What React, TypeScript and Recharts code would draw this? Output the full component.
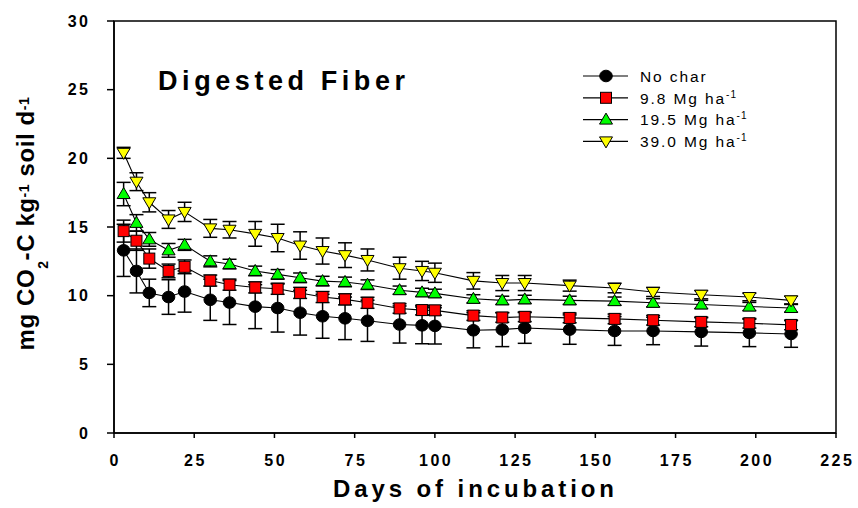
import React from 'react';
import { ComposedChart, Line, XAxis, YAxis, ErrorBar, ReferenceArea, Legend } from 'recharts';

const days = [3, 7, 11, 17, 22, 30, 36, 44, 51, 58, 65, 72, 79, 89, 96, 100, 112, 121, 128, 142, 156, 168, 183, 198, 211];

const noChar = [13.3, 11.8, 10.2, 9.9, 10.3, 9.7, 9.5, 9.2, 9.1, 8.76, 8.5, 8.35, 8.17, 7.9, 7.84, 7.8, 7.48, 7.53, 7.65, 7.53, 7.43, 7.43, 7.36, 7.29, 7.21];
const noCharErr = [1.9, 1.6, 1.0, 1.26, 1.5, 1.5, 1.6, 1.6, 1.75, 1.63, 1.6, 1.55, 1.5, 1.35, 1.34, 1.32, 1.28, 1.24, 1.12, 1.07, 1.05, 1.0, 1.03, 1.0, 0.97];

const char98 = [14.7, 14.0, 12.7, 11.8, 12.1, 11.1, 10.8, 10.6, 10.5, 10.2, 9.9, 9.73, 9.48, 9.07, 8.95, 8.93, 8.55, 8.41, 8.46, 8.38, 8.31, 8.21, 8.09, 7.99, 7.87];
const char98Err = [0.8, 0.7, 0.7, 0.5, 0.5, 0.4, 0.4, 0.4, 0.4, 0.4, 0.4, 0.4, 0.4, 0.35, 0.35, 0.35, 0.35, 0.35, 0.35, 0.35, 0.35, 0.35, 0.35, 0.35, 0.35];

const char195 = [17.4, 15.3, 14.1, 13.3, 13.7, 12.5, 12.3, 11.8, 11.55, 11.3, 11.06, 11.0, 10.8, 10.4, 10.24, 10.17, 9.77, 9.66, 9.73, 9.66, 9.6, 9.48, 9.36, 9.21, 9.1];
const char195Err = [0.85, 0.6, 0.5, 0.5, 0.4, 0.4, 0.35, 0.35, 0.35, 0.35, 0.35, 0.35, 0.35, 0.3, 0.3, 0.3, 0.3, 0.3, 0.3, 0.3, 0.3, 0.3, 0.3, 0.3, 0.3];

const char390 = [20.4, 18.3, 16.8, 15.55, 16.1, 14.9, 14.8, 14.5, 14.2, 13.65, 13.25, 12.95, 12.6, 12.0, 11.8, 11.67, 11.08, 10.92, 10.92, 10.73, 10.56, 10.27, 10.07, 9.9, 9.66];
const char390Err = [0.4, 0.65, 0.7, 0.65, 0.7, 0.65, 0.6, 0.9, 1.0, 1.0, 0.95, 0.9, 0.8, 0.8, 0.7, 0.7, 0.6, 0.55, 0.55, 0.4, 0.35, 0.33, 0.3, 0.27, 0.3];

const xTicks = [0, 25, 50, 75, 100, 125, 150, 175, 200, 225];
const yTicks = [0, 5, 10, 15, 20, 25, 30];

const seriesNames = ['No char', '9.8 Mg ha', '19.5 Mg ha', '39.0 Mg ha'];
const seriesSup = ['', '-1', '-1', '-1'];
const seriesKeys = ['nc', 'c98', 'c195', 'c390'];
const seriesShapes = ['circle', 'square', 'up', 'down'];

const titleText = 'Digested Fiber';
const xTitle = 'Days of incubation';

const data = days.map((d, i) => ({
  day: d,
  nc: noChar[i], ncErr: noCharErr[i],
  c98: char98[i], c98Err: char98Err[i],
  c195: char195[i], c195Err: char195Err[i],
  c390: char390[i], c390Err: char390Err[i],
}));

const FONT = "'Liberation Sans', Arial, Helvetica, sans-serif";

function Marker({ kind, cx, cy }: { kind: string; cx: number; cy: number }) {
  if (cx == null || cy == null || isNaN(cx) || isNaN(cy)) return null;
  switch (kind) {
    case 'circle':
      return <ellipse cx={cx} cy={cy} rx={6.3} ry={5.8} fill="#000" stroke="#000" strokeWidth={1} />;
    case 'square':
      return <rect x={cx - 5.5} y={cy - 5.5} width={11} height={11} fill="#ff0000" stroke="#000" strokeWidth={1} />;
    case 'up':
      return <polygon points={`${cx},${cy - 6.5} ${cx + 6.5},${cy + 4.5} ${cx - 6.5},${cy + 4.5}`} fill="#00ff00" stroke="#000" strokeWidth={1} />;
    case 'down':
      return <polygon points={`${cx - 6.5},${cy - 4.5} ${cx + 6.5},${cy - 4.5} ${cx},${cy + 6.5}`} fill="#ffff00" stroke="#000" strokeWidth={1} />;
    default:
      return null;
  }
}

const makeDot = (kind: string) => (p: any) => (
  <g key={`${kind}-${p.index}`}>
    <Marker kind={kind} cx={p.cx} cy={p.cy} />
  </g>
);

const renderLegend = () => (
  <svg width={220} height={92} style={{ display: 'block', overflow: 'visible' }}>
    {seriesNames.map((name, i) => {
      const cy = 16 + i * 21.8;
      return (
        <g key={name}>
          <line x1={8} x2={53} y1={cy} y2={cy} stroke="#000" strokeWidth={1.2} />
          <Marker kind={seriesShapes[i]} cx={31} cy={cy} />
          <text x={65} y={cy + 5.8} fontFamily={FONT} fontSize={15.5} letterSpacing={1.9} fill="#000">
            {name}
            {seriesSup[i] ? (
              <tspan dy={-6} fontSize={10} letterSpacing={1}>{seriesSup[i]}</tspan>
            ) : null}
          </text>
        </g>
      );
    })}
  </svg>
);

const renderXLabel = () => (
  <text x={333} y={497} fontFamily={FONT} fontSize={24} fontWeight="bold" fill="#000" textLength={281} lengthAdjust="spacing">
    {xTitle}
  </text>
);

const renderYLabel = () => (
  <text x={33.5} y={223.5} transform="rotate(-90, 33.5, 223.5)" textAnchor="middle" fontFamily={FONT} fontSize={24} fontWeight="bold" fill="#000" letterSpacing={0.6}>
    <tspan>mg CO</tspan>
    <tspan dy={14} fontSize={14}>2</tspan>
    <tspan dy={-14}>-C kg</tspan>
    <tspan dy={-5} fontSize={14}>-1</tspan>
    <tspan dy={5}> soil d</tspan>
    <tspan dy={-5} fontSize={14}>-1</tspan>
  </text>
);

const tickStyle = { fill: '#000', fontSize: 16, fontWeight: 'bold', fontFamily: FONT, letterSpacing: 2.5 } as any;

export default function App() {
  return (
    <div style={{ position: 'absolute', left: 0, top: 0, width: 858, height: 508, background: '#fff' }}>
      <ComposedChart width={858} height={508} data={data} margin={{ top: 21, right: 22, bottom: 0, left: 0 }}>
        <XAxis
          type="number"
          dataKey="day"
          domain={[0, 225]}
          ticks={xTicks}
          interval={0}
          allowDataOverflow
          height={75}
          tickSize={5}
          tickMargin={17}
          axisLine={{ stroke: '#000', strokeWidth: 1.5 }}
          tickLine={{ stroke: '#000', strokeWidth: 1.5 }}
          tick={{ ...tickStyle, dx: 1.25 }}
          label={renderXLabel}
        />
        <YAxis
          type="number"
          domain={[0, 30]}
          ticks={yTicks}
          interval={0}
          allowDataOverflow
          width={114}
          tickSize={7}
          tickMargin={16.5}
          axisLine={{ stroke: '#000', strokeWidth: 1.5 }}
          tickLine={{ stroke: '#000', strokeWidth: 1.5 }}
          tick={tickStyle}
          label={renderYLabel}
        />
        <ReferenceArea x1={0} x2={225} y1={0} y2={30} fill="none" fillOpacity={0} stroke="#000" strokeWidth={1.5} strokeOpacity={1} />
        {seriesKeys.map((k, i) => (
          <Line
            key={k}
            type="linear"
            dataKey={k}
            name={seriesNames[i]}
            stroke="#000"
            strokeWidth={1.1}
            isAnimationActive={false}
            dot={makeDot(seriesShapes[i])}
            activeDot={false}
          >
            <ErrorBar dataKey={`${k}Err`} direction="y" width={7} stroke="#000" strokeWidth={1.5} />
          </Line>
        ))}
        <Legend
          layout="vertical"
          align="center"
          verticalAlign="middle"
          content={renderLegend}
          wrapperStyle={{ position: 'absolute', left: 575, top: 60, width: 220, height: 92 }}
        />
      </ComposedChart>
      <svg width={858} height={508} style={{ position: 'absolute', left: 0, top: 0, pointerEvents: 'none' }}>
        <text x={158} y={89.5} fontFamily={FONT} fontSize={27} fontWeight="bold" fill="#000" textLength={247} lengthAdjust="spacing">
          {titleText}
        </text>
      </svg>
    </div>
  );
}
